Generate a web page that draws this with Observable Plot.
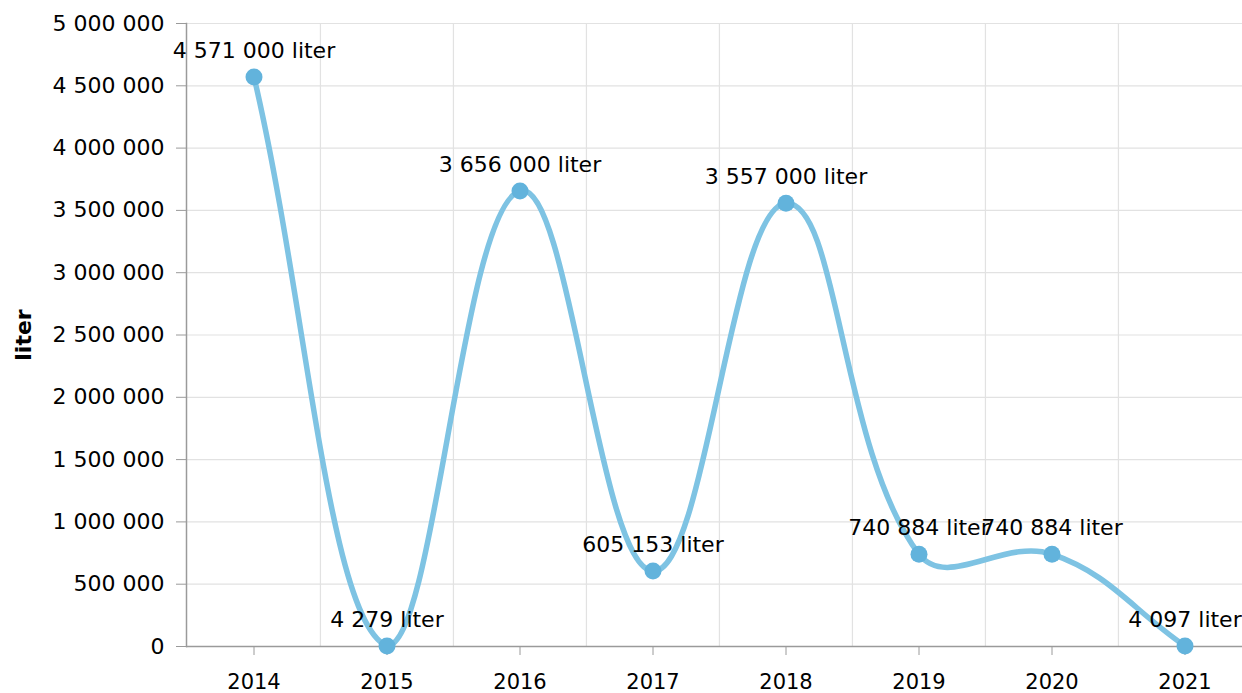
<!DOCTYPE html>
<html>
<head>
<meta charset="utf-8">
<script src="https://cdn.jsdelivr.net/npm/d3@7"></script>
<script src="https://cdn.jsdelivr.net/npm/@observablehq/plot@0.6"></script>
<style>
  html, body { margin: 0; padding: 0; background: #fff; overflow: hidden; }
  #chart svg { overflow: hidden; }
</style>
</head>
<body>
<div id="chart"></div>
<script>
// ---- data ----
const years = ["2014", "2015", "2016", "2017", "2018", "2019", "2020", "2021"];
const values = [4571000, 4279, 3656000, 605153, 3557000, 740884, 740884, 4097];
const unit = "liter";
const yTicks = [0, 500000, 1000000, 1500000, 2000000, 2500000, 3000000, 3500000, 4000000, 4500000, 5000000];
const yTitle = "liter";

const fmt = d => d3.format(",")(d).replace(/,/g, " ");
const data = years.map((year, i) => ({year, value: values[i]}));

// ---- layout ----
const W = 1242, H = 693;
const mLeft = 186, mTop = 23, mBottom = 47;
const xRange = [mLeft, 1251];
const bw = (xRange[1] - xRange[0]) / years.length;
const axisColor = "#9a9a9a";
const gridColor = "#e2e2e2";
const font = "'DejaVu Sans', Verdana, sans-serif";

// Spline curve (tension-based bezier, control points capped to the plot area)
function splineCurve(tension, area) {
  return function(context) {
    let pts = [];
    const cap = (v, lo, hi) => Math.max(Math.min(v, hi), lo);
    function draw() {
      const n = pts.length;
      if (!n) return;
      context.moveTo(pts[0][0], pts[0][1]);
      if (n === 1) return;
      const cpPrev = [], cpNext = [];
      for (let i = 0; i < n; i++) {
        const prev = pts[Math.max(i - 1, 0)], cur = pts[i], next = pts[Math.min(i + 1, n - 1)];
        const d01 = Math.hypot(cur[0] - prev[0], cur[1] - prev[1]);
        const d12 = Math.hypot(next[0] - cur[0], next[1] - cur[1]);
        let s01 = d01 / (d01 + d12), s12 = d12 / (d01 + d12);
        if (isNaN(s01)) s01 = 0;
        if (isNaN(s12)) s12 = 0;
        const fa = tension * s01, fb = tension * s12;
        let p = [cur[0] - fa * (next[0] - prev[0]), cur[1] - fa * (next[1] - prev[1])];
        let q = [cur[0] + fb * (next[0] - prev[0]), cur[1] + fb * (next[1] - prev[1])];
        p = [cap(p[0], area.left, area.right), cap(p[1], area.top, area.bottom)];
        q = [cap(q[0], area.left, area.right), cap(q[1], area.top, area.bottom)];
        cpPrev.push(p); cpNext.push(q);
      }
      for (let i = 1; i < n; i++) {
        context.bezierCurveTo(cpNext[i - 1][0], cpNext[i - 1][1], cpPrev[i][0], cpPrev[i][1], pts[i][0], pts[i][1]);
      }
    }
    return {
      areaStart() {}, areaEnd() {},
      lineStart() { pts = []; },
      lineEnd() { draw(); },
      point(x, y) { pts.push([+x, +y]); }
    };
  };
}

const plotArea = {left: mLeft, right: xRange[1], top: mTop, bottom: H - mBottom};

const chart = Plot.plot({
  width: W,
  height: H,
  marginLeft: mLeft,
  marginRight: 0,
  marginTop: mTop,
  marginBottom: mBottom,
  style: {fontFamily: font, fontSize: "22px", background: "#fff", color: "#000"},
  x: {type: "band", domain: years, range: xRange, padding: 0},
  y: {domain: [0, 5000000]},
  marks: [
    Plot.gridY(yTicks, {stroke: gridColor, strokeOpacity: 1, strokeWidth: 1.2}),
    Plot.ruleX(years.slice(1), {x: d => d, dx: -bw / 2, stroke: gridColor, strokeWidth: 1.2}),
    Plot.frame({anchor: "left", stroke: axisColor, strokeWidth: 1.5}),
    Plot.ruleY([0], {stroke: axisColor, strokeWidth: 1.5}),
    Plot.axisY(yTicks, {
      tickSize: 10, tickPadding: 12, tickFormat: fmt, fontSize: 22,
      stroke: axisColor, fill: "#000", label: null
    }),
    Plot.axisX({
      tickSize: 9, tickPadding: 19, fontSize: 21,
      stroke: axisColor, fill: "#000", label: null
    }),
    Plot.text([yTitle], {
      frameAnchor: "left", text: d => d, rotate: -90, dx: -163,
      textAnchor: "middle", lineAnchor: "middle",
      fontWeight: "bold", fontSize: 22, fill: "#000"
    }),
    Plot.line(data, {x: "year", y: "value", curve: splineCurve(0.4, plotArea), stroke: "#7ec3e3", strokeWidth: 5.5}),
    Plot.dot(data, {x: "year", y: "value", r: 8.5, fill: "#62b3dc", stroke: "none"}),
    Plot.text(data, {
      x: "year", y: "value", text: d => `${fmt(d.value)} ${unit}`,
      dy: -26, fontSize: 22, fill: "#000"
    })
  ]
});
document.getElementById("chart").appendChild(chart);
</script>
</body>
</html>
